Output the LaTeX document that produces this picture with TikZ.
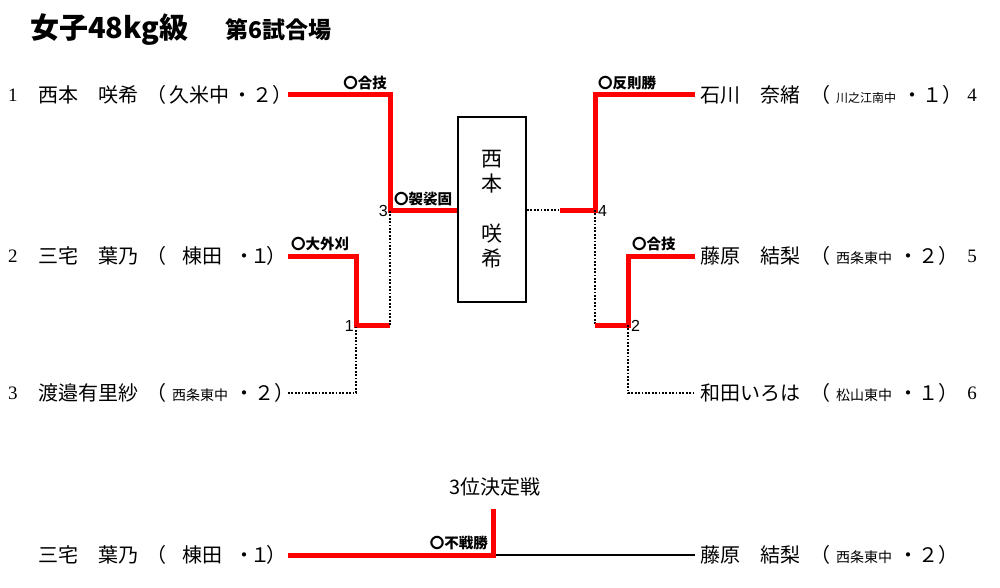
\documentclass[tikz,border=0pt]{standalone}
\usepackage{fontspec}
\usepackage{xcolor}
\usepackage{tikz}
\usetikzlibrary{positioning}
\setmainfont{Liberation Serif}
\setsansfont{Liberation Sans}
\newfontfamily\jp{Noto Sans CJK JP}
\definecolor{win}{HTML}{FF0000}
\newcommand{\schsmall}[2]{{\fontsize{#2}{#2}\selectfont #1}}
\newcommand{\munetaschool}{（\hspace{16pt}棟田\hspace{12pt}・\hspace{-4pt}１\hspace{-4pt}）}
\tikzset{
  winline/.style={draw=win, line width=5pt},
  byeline/.style={draw=black, line width=1.8pt, dash pattern=on 1.8pt off 1.6pt},
  nametext/.style={anchor=west, inner sep=0pt, font=\jp\fontsize{20}{20}\selectfont},
  waza/.style={inner sep=0pt, font=\jp\bfseries\fontsize{14.5}{15}\selectfont},
  seedno/.style={inner sep=0pt, font=\fontsize{19}{19}\selectfont},
  matchno/.style={inner sep=0pt, font=\sffamily\fontsize{16}{16}\selectfont},
}

\begin{document}
\begin{tikzpicture}[x=1pt,y=-1pt]
        \useasboundingbox[fill=white] (0,0) rectangle (1000,588);
        % title
        \node[anchor=west, inner sep=0pt, font=\jp\bfseries\fontsize{29}{29}\selectfont] (title) at (30,30) {女子48kg級};
        \node[anchor=west, inner sep=0pt, font=\jp\bfseries\fontsize{23}{23}\selectfont] (mat) at (225,30) {第6試合場};

        % left side
        \node[seedno] (n1) at (13,95) {1};
        \node[nametext] (p1) at (38,95) {西本　咲希};
        \node[nametext] (c1) at (146,95) {（\hspace{3pt}久米中\hspace{3pt}・２）};
        \node[seedno] (n2) at (13,256) {2};
        \node[nametext] (p2) at (38,256) {三宅　葉乃};
        \node[nametext] (c2) at (146,256) {\munetaschool};
        \node[seedno] (n3) at (13,393) {3};
        \node[nametext] (p3) at (38,393) {渡邉有里紗};
        \node[nametext] (c3) at (146,393) {（\hspace{6pt}\schsmall{西条東中}{14}\hspace{6pt}・２）};

        % right side
        \node[nametext] (p4) at (700,95) {石川　奈緒};
        \node[nametext] (c4) at (810,95) {（\hspace{6pt}\schsmall{川之江南中}{12}\hspace{6pt}・１）};
        \node[seedno] (n4) at (972,95) {4};
        \node[nametext] (p5) at (700,256) {藤原　結梨};
        \node[nametext] (c5) at (810,256) {（\hspace{6pt}\schsmall{西条東中}{14}\hspace{6pt}・２）};
        \node[seedno] (n5) at (972,256) {5};
        \node[nametext] (p6) at (700,393) {和田いろは};
        \node[nametext] (c6) at (810,393) {（\hspace{6pt}\schsmall{松山東中}{14}\hspace{6pt}・１）};
        \node[seedno] (n6) at (972,393) {6};

        % bracket points
        \coordinate (s1) at (288,95);  \coordinate (s2) at (288,256); \coordinate (s3) at (288,393);
        \coordinate (s4) at (695,95);  \coordinate (s5) at (695,256); \coordinate (s6) at (695,393);
        \coordinate (m1) at (356,325); \coordinate (m1o) at (390,325); \coordinate (m3) at (390,210);
        \coordinate (m2) at (628,325); \coordinate (m2o) at (595,325); \coordinate (m4) at (595,210);
        \coordinate (m4o) at (560,210);

        % winner box
        \node[draw, line width=1.8pt, minimum width=68pt, minimum height=185pt, inner sep=0pt,
              align=center, font=\jp\fontsize{21}{25}\selectfont] (champ) at (492,209.5)
              {西\\本\\[25pt]咲\\希};

        % lines
        \draw[winline] (s1) -| (m3) -- (m3 -| champ.west);
        \draw[winline] (s2) -| (m1) -- (m1o);
        \draw[byeline] (s3) -| (m1);
        \draw[byeline] (m1o) -- (m3);
        \draw[byeline] (m3 -| champ.east) -- (m4o);
        \draw[winline] (m4o) -- (m4) |- (s4);
        \draw[byeline] (m4) -- (m2o);
        \draw[winline] (m2o) -- (m2) |- (s5);
        \draw[byeline] (m2) |- (s6);

        % match numbers and techniques
        \node[matchno, anchor=east] (k3) at (388,211) {3};
        \node[matchno, anchor=east] (k1) at (354,326) {1};
        \node[matchno, anchor=west] (k4) at (598,211) {4};
        \node[matchno, anchor=west] (k2) at (631,326) {2};
        \node[waza, anchor=south east] (w1) at (387,90) {〇合技};
        \node[waza, anchor=south west] (w3) at (394,206) {〇袈裟固};
        \node[waza, anchor=south west] (w2) at (291,251) {〇大外刈};
        \node[waza, anchor=south west] (w4) at (598,90) {〇反則勝};
        \node[waza, anchor=south west] (w5) at (632,251) {〇合技};

        % third place
        \node[inner sep=0pt, font=\jp\fontsize{20}{20}\selectfont] (third) at (495,487) {3位決定戦};
        \node[nametext] (q1) at (38,555) {三宅　葉乃};
        \node[nametext] (r1) at (146,555) {\munetaschool};
        \node[nametext] (q2) at (700,555) {藤原　結梨};
        \node[nametext] (r2) at (810,555) {（\hspace{6pt}\schsmall{西条東中}{14}\hspace{6pt}・２）};
        \coordinate (t1) at (288,555); \coordinate (t2) at (695,555);
        \coordinate (tf) at (493,555); \coordinate (ttop) at (493,509);
        \draw[black, line width=1.2pt] (tf) -- (t2);
        \draw[winline] (t1) -- (tf) -- (ttop);
        \node[waza, anchor=south east] (w6) at (488,550) {〇不戦勝};
    \end{tikzpicture}
\end{document}
